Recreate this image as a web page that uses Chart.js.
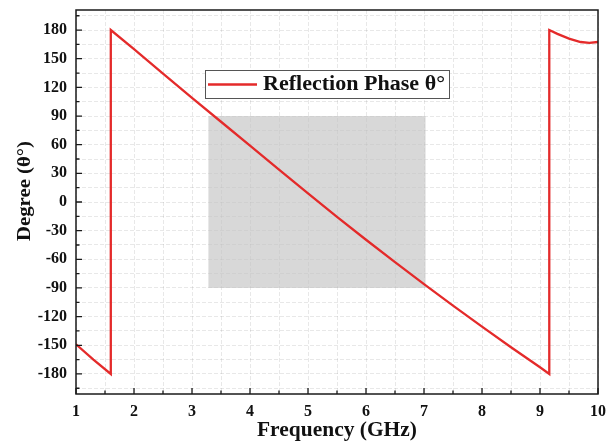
<!DOCTYPE html>
<html>
<head>
<meta charset="utf-8">
<script src="https://cdn.jsdelivr.net/npm/chart.js@4/dist/chart.umd.min.js"></script>
<style>
  html, body { margin: 0; padding: 0; background: #fff; }
  #wrap { width: 606px; height: 446px; }
</style>
</head>
<body>
<div id="wrap"><canvas id="c" width="606" height="446"></canvas></div>
<script>
// ---- data ----
const seriesLabel = 'Reflection Phase θ°';
const freq  = [1.0, 1.3, 1.6, 1.6, 2.0, 2.5, 3.0, 3.5, 4.0, 4.5, 5.0, 5.5, 6.0, 6.5, 7.0, 7.5, 8.0, 8.5, 9.0, 9.16, 9.16, 9.3, 9.5, 9.7, 9.85, 10.0];
const phase = [-149, -165, -180, 180, 160, 134.5, 109, 84, 59, 34, 9, -15.5, -39.5, -63, -86, -108.5, -130.5, -152, -173, -180, 180, 176, 171, 167.5, 166.5, 167.5];
const shadeFreq = [3.28, 7.03];
const shadeTop = [90, 90];
const shadeBottom = -90;
const xTickValues = [1, 2, 3, 4, 5, 6, 7, 8, 9, 10];
const yTickValues = [-180, -150, -120, -90, -60, -30, 0, 30, 60, 90, 120, 150, 180];
const xTitle = 'Frequency (GHz)';
const yTitle = 'Degree (θ°)';

const SERIF = '"Liberation Serif", "DejaVu Serif", serif';
const RED = '#e42a2a';

function fitText(ctx, text, x, y, targetW) {
  const w = ctx.measureText(text).width;
  ctx.save();
  ctx.translate(x, y);
  ctx.scale(targetW / w, 1);
  ctx.fillText(text, 0, 0);
  ctx.restore();
}

const framePlugin = {
  id: 'frame',
  afterDraw(chart) {
    const { ctx, chartArea: a, scales } = chart;
    const xs = scales.x, ys = scales.y;
    ctx.save();
    // frame
    ctx.strokeStyle = '#1a1a1a';
    ctx.lineWidth = 1.5;
    ctx.strokeRect(a.left, a.top, a.right - a.left, a.bottom - a.top);
    // inward ticks
    ctx.lineWidth = 1.3;
    ctx.beginPath();
    for (let v = 1; v <= 10.001; v += 0.5) {
      const px = xs.getPixelForValue(v);
      const len = Number.isInteger(v) ? 6 : 3.5;
      ctx.moveTo(px, a.bottom); ctx.lineTo(px, a.bottom - len);
    }
    for (let v = -195; v <= 195; v += 15) {
      const py = ys.getPixelForValue(v);
      const len = (v % 30 === 0) ? 6 : 3.5;
      ctx.moveTo(a.left, py); ctx.lineTo(a.left + len, py);
    }
    ctx.stroke();
    // axis titles
    ctx.fillStyle = '#111';
    ctx.textAlign = 'center';
    ctx.textBaseline = 'middle';
    ctx.font = 'bold 20px ' + SERIF;
    fitText(ctx, xTitle, (a.left + a.right) / 2, 431, 160);
    ctx.save();
    ctx.translate(25, 191);
    ctx.rotate(-Math.PI / 2);
    ctx.font = 'bold 19px ' + SERIF;
    fitText(ctx, yTitle, 0, 0, 100);
    ctx.restore();
    // legend
    const lx = 205, ly = 70, lw = 244, lh = 28;
    ctx.fillStyle = '#fff';
    ctx.fillRect(lx, ly, lw, lh);
    ctx.strokeStyle = '#555';
    ctx.lineWidth = 1;
    ctx.strokeRect(lx + 0.5, ly + 0.5, lw, lh);
    ctx.strokeStyle = RED;
    ctx.lineWidth = 2.5;
    ctx.beginPath();
    ctx.moveTo(208, ly + 14.5); ctx.lineTo(257, ly + 14.5);
    ctx.stroke();
    ctx.fillStyle = '#111';
    ctx.font = 'bold 20px ' + SERIF;
    ctx.textAlign = 'left';
    fitText(ctx, chart.data.datasets[0].label, 263, ly + 15, 182);
    ctx.restore();
  }
};

new Chart(document.getElementById('c'), {
  type: 'line',
  data: {
    datasets: [
      {
        label: seriesLabel,
        data: freq.map((f, i) => ({ x: f, y: phase[i] })),
        borderColor: RED,
        borderWidth: 2.3,
        pointRadius: 0,
        tension: 0,
        fill: false,
        order: 1
      },
      {
        label: 'band',
        data: shadeFreq.map((f, i) => ({ x: f, y: shadeTop[i] })),
        borderWidth: 0,
        borderColor: 'rgba(0,0,0,0)',
        backgroundColor: 'rgba(195,195,195,0.65)',
        pointRadius: 0,
        fill: { value: shadeBottom },
        order: 2
      }
    ]
  },
  options: {
    responsive: false,
    animation: false,
    devicePixelRatio: 1,
    layout: { padding: { top: 10, right: 8, left: 0, bottom: 0 } },
    plugins: { legend: { display: false }, tooltip: { enabled: false } },
    scales: {
      x: {
        type: 'linear',
        min: 1, max: 10,
        afterFit(s) { s.height = 52; s.paddingLeft = 0; s.paddingRight = 0; },
        afterBuildTicks(s) {
          const t = [];
          for (let v = 1; v <= 10.001; v += 0.5) t.push({ value: v });
          s.ticks = t;
        },
        ticks: {
          autoSkip: false,
          maxRotation: 0,
          padding: 8,
          color: '#111',
          font: { family: SERIF, size: 16, weight: 'bold' },
          callback: (v) => xTickValues.includes(v) ? String(v) : ''
        },
        grid: { color: 'rgba(0,0,0,0.09)', drawTicks: false, lineWidth: 1 },
        border: { display: false, dash: [4, 2] }
      },
      y: {
        type: 'linear',
        min: -201, max: 201,
        afterFit(s) { s.width = 76; s.paddingTop = 0; s.paddingBottom = 0; },
        afterBuildTicks(s) {
          const t = [];
          for (let v = -195; v <= 195; v += 15) t.push({ value: v });
          s.ticks = t;
        },
        ticks: {
          autoSkip: false,
          padding: 9,
          color: '#111',
          font: { family: SERIF, size: 16, weight: 'bold' },
          callback: (v) => yTickValues.includes(v) ? String(v) : ''
        },
        grid: { color: 'rgba(0,0,0,0.09)', drawTicks: false, lineWidth: 1 },
        border: { display: false, dash: [4, 2] }
      }
    }
  },
  plugins: [framePlugin]
});
</script>
</body>
</html>
